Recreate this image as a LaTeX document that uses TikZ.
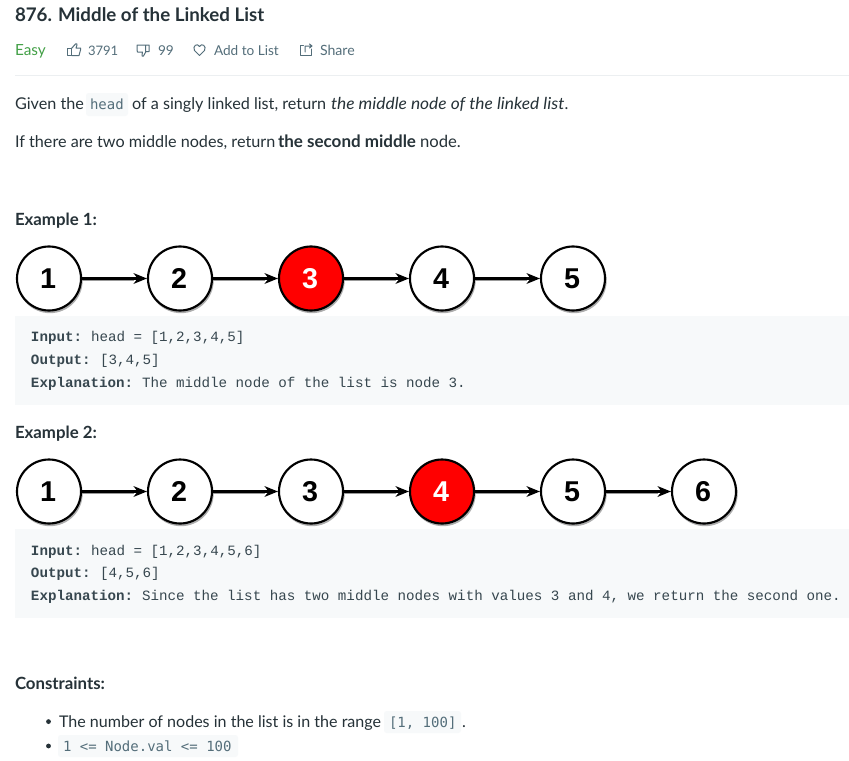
\documentclass[tikz,border=0pt]{standalone}
\usepackage{fontspec}
\setmainfont{Lato}
\newfontfamily\blockmono{Liberation Mono}
\newfontfamily\inlinemono{DejaVu Sans Mono}
\newfontfamily\numfont{Liberation Sans}
\newfontfamily\wideitalic[FakeStretch=1.05]{Lato Italic}
\usetikzlibrary{arrows.meta}
\definecolor{ink}{HTML}{263238}
\definecolor{slate}{HTML}{546E7A}
\definecolor{codebg}{HTML}{F7F9FA}
\definecolor{easy}{HTML}{43A047}
\definecolor{rulec}{HTML}{ECEFF1}
\definecolor{codeink}{HTML}{37474F}
\definecolor{inlineink}{HTML}{546E7A}
\tikzset{
  px/.style={x=0.75pt,y=-0.75pt},
  txt/.style={anchor=base west,inner sep=0pt,outer sep=0pt,text=ink,font=\fontsize{12.15}{14}\selectfont},
  head/.style={txt,font=\fontsize{12.6}{14}\selectfont\bfseries},
  meta/.style={txt,text=slate,font=\fontsize{10.2}{13}\selectfont},
  codeline/.style={txt,text=codeink,font=\fontsize{10.65}{13}\blockmono},
  codelabel/.style={txt,text=codeink,font=\fontsize{10.65}{13}\blockmono\bfseries},
  inlinecode/.style={txt,text=inlineink,font=\fontsize{10.5}{13}\inlinemono},
  chip/.style={fill=codebg,rounded corners=2pt,draw=none},
  block/.style={fill=codebg,draw=none},
  lnode/.style={circle,draw=black,line width=1.6pt,fill=white,minimum size=48pt,inner sep=0pt,text=black,font=\fontsize{21.5}{24}\numfont\bfseries,execute at begin node=\kern-1.5pt},
  rednode/.style={lnode,fill=red,text=white},
  shade/.style={circle,fill=black!32,draw=none,minimum size=49pt,inner sep=0pt},
  link/.style={draw=black,line width=1.7pt,-{Stealth[length=10pt,width=8pt,inset=3pt]}},
  linkshade/.style={draw=black!40,line width=1.4pt},
  icon/.style={draw=slate,line width=0.75pt,line join=round,line cap=round,fill=none},
}
\begin{document}
\begin{tikzpicture}[px]
\useasboundingbox (0,0) rectangle (849,760);
\fill[white] (0,0) rectangle (849,760);

% header
\node[txt,font=\fontsize{14.05}{16}\selectfont\bfseries] (title) at (15,21.5) {876. Middle of the Linked List};
\node[txt,text=easy,font=\fontsize{11.5}{14}\selectfont] (easy) at (15,55) {Easy};
\node[meta,font=\fontsize{9.8}{13}\selectfont] (likes) at (88,55) {3791};
\node[meta] (dislikes) at (158,55) {99};
\node[meta] (addlist) at (214,55) {Add to List};
\node[meta,font=\fontsize{10.6}{13}\selectfont] (share) at (320,55) {Share};
% icons
\draw[icon] (67.5,48.5) rectangle (71.5,55.5);
\draw[icon] (71.5,48.5) -- (75.5,44) .. controls (76.5,43.2) and (77.5,44) .. (77,45) -- (76,48) -- (80.5,48) -- (80.5,50) -- (79,55.5) -- (71.5,55.5);
\draw[icon] (137,45) -- (149,45) -- (149,51.5) -- (146,51.5) -- (143.5,56) .. controls (142.5,56.8) and (141.5,56) .. (142,55) -- (142.5,52) -- (137.5,52) -- (137,50) -- cycle (145.5,45) -- (145.5,51.5);
\draw[icon] (199.5,55.5) -- (194.5,50.5) .. controls (192,46) and (197.5,42.5) .. (199.5,46.5) .. controls (201.5,42.5) and (207,46) .. (204.5,50.5) -- cycle;
\draw[icon] (303.5,45) -- (300,45) -- (300,55.5) -- (311.5,55.5) -- (311.5,49);
\draw[icon] (305,52) -- (305,46) -- (312,46) (309.5,44) -- (312,46) -- (309.5,48);
\draw[rulec,line width=0.75pt] (15,75.5) -- (849,75.5);

% body
\node[txt] (given) at (15,109) {Given the};
\fill[chip] (86,93) rectangle (128,116);
\node[inlinecode] (headc) at (90,109) {head};
\node[txt] (rest) at (132,109) {of a singly linked list, return};
\node[txt,font=\fontsize{12.4}{14}\wideitalic] (restit) at (331,109) {the middle node of the linked list};
\node[txt] (restdot) at (564.5,109) {.};
\node[txt] (ifthere) at (15,147) {If there are two middle nodes, return};
\node[txt,font=\fontsize{12.75}{14}\selectfont\bfseries] (second) at (278,147) {the second middle};
\node[txt,font=\fontsize{12.5}{14}\selectfont] (nodew) at (420,147) {node.};

% example 1
\node[head] (ex1) at (15,225) {Example 1:};
\fill[block] (15,316) rectangle (849,405);
\foreach \x in {49,180,311,442,573}{
  \node[shade] at (\x+1,280.5) {};
}
\foreach \x in {82,213,344,475}{
  \draw[linkshade] (\x,280) -- (\x+52,280);
}
\node[lnode] (a1) at (49,278.5) {1};
\node[lnode] (a2) at (180,278.5) {2};
\node[rednode] (a3) at (311,278.5) {3};
\node[lnode] (a4) at (442,278.5) {4};
\node[lnode] (a5) at (573,278.5) {5};
\draw[link] (a1) -- (a2);
\draw[link] (a2) -- (a3);
\draw[link] (a3) -- (a4);
\draw[link] (a4) -- (a5);
\node[codelabel] (i1l) at (31,341) {Input:};
\node[codeline] (i1) at (91,341) {head = [1,2,3,4,5]};
\node[codelabel] (o1l) at (31,364) {Output:};
\node[codeline] (o1) at (100,364) {[3,4,5]};
\node[codelabel] (e1l) at (31,387) {Explanation:};
\node[codeline] (e1) at (142,387) {The middle node of the list is node 3.};

% example 2
\node[head] (ex2) at (15,438) {Example 2:};
\fill[block] (15,529) rectangle (849,618);
\foreach \x in {49,180,311,442,573,704}{
  \node[shade] at (\x+1,493.5) {};
}
\foreach \x in {82,213,344,475,606}{
  \draw[linkshade] (\x,493) -- (\x+52,493);
}
\node[lnode] (b1) at (49,491.5) {1};
\node[lnode] (b2) at (180,491.5) {2};
\node[lnode] (b3) at (311,491.5) {3};
\node[rednode] (b4) at (442,491.5) {4};
\node[lnode] (b5) at (573,491.5) {5};
\node[lnode] (b6) at (704,491.5) {6};
\draw[link] (b1) -- (b2);
\draw[link] (b2) -- (b3);
\draw[link] (b3) -- (b4);
\draw[link] (b4) -- (b5);
\draw[link] (b5) -- (b6);
\node[codelabel] (i2l) at (31,555) {Input:};
\node[codeline] (i2) at (91,555) {head = [1,2,3,4,5,6]};
\node[codelabel] (o2l) at (31,577) {Output:};
\node[codeline] (o2) at (100,577) {[4,5,6]};
\node[codelabel] (e2l) at (31,600) {Explanation:};
\node[codeline] (e2) at (142,600) {Since the list has two middle nodes with values 3 and 4, we return the second one.};

% constraints
\node[head] (cons) at (15,689) {Constraints:};
\fill[ink] (48.5,721.6) circle (2.4);
\node[txt,font=\fontsize{12.05}{14}\selectfont] (c1) at (59,727) {The number of nodes in the list is in the range};
\fill[chip] (384,711) rectangle (461,733);
\node[inlinecode] (c1code) at (389,727) {[1, 100]};
\node[txt] (c1dot) at (462,727) {.};
\fill[ink] (48.5,746) circle (2.4);
\fill[chip] (58,735) rectangle (238,757);
\node[inlinecode] (c2code) at (63,751) {1 <= Node.val <= 100};
\end{tikzpicture}
\end{document}
